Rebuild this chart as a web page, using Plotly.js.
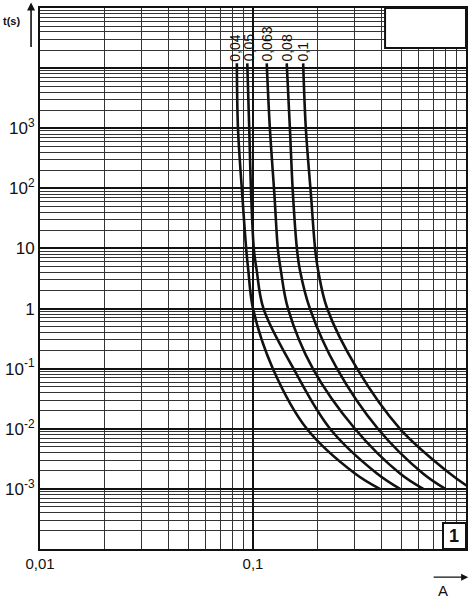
<!DOCTYPE html>
<html>
<head>
<meta charset="utf-8">
<script src="https://cdn.plot.ly/plotly-3.0.1.min.js"></script>
<style>
	body { margin: 0; background: #fff; }
	#fuseChart { width: 470px; height: 598px; }
</style>
</head>
<body>
<div id="fuseChart"></div>
<script>
// melting time (s) at which the current of each curve was read
const timeS = [12000, 1000, 80, 9.4, 4.4, 1, 0.1, 0.01, 0.0018, 0.001];

// current (A) of each rated fuse at the times above
const curve004 = [0.084, 0.085, 0.089, 0.093, 0.095, 0.100, 0.124, 0.179, 0.301, 0.394];
const curve005 = [0.094, 0.096, 0.098, 0.101, 0.104, 0.112, 0.155, 0.230, 0.382, 0.49];
const curve0063 = [0.116, 0.120, 0.126, 0.131, 0.135, 0.146, 0.191, 0.301, 0.490, 0.63];
const curve008 = [0.144, 0.149, 0.154, 0.161, 0.166, 0.185, 0.248, 0.386, 0.628, 0.80];
const curve01 = [0.172, 0.177, 0.187, 0.196, 0.202, 0.223, 0.308, 0.490, 0.84, 1.06];

const curveLabels = ["0,04", "0,05", "0,063", "0,08", "0,1"];

const xTickVals = [0.01, 0.1, 1];
const xTickText = ["0,01", "0,1", "1"];
const yTickVals = [1e4, 1e3, 1e2, 10, 1, 0.1, 0.01, 0.001];
const yTickText = [" ", "10<sup>3</sup>", "10<sup>2</sup>", "10", "1", "10<sup>-1</sup>", "10<sup>-2</sup>", "10<sup>-3</sup>"];

const narrow = "Liberation Sans Narrow, Arial Narrow, Arial";

function buildTraces() {
	let curves = [curve004, curve005, curve0063, curve008, curve01];
	let traces = [];
	for (let c of curves) {
		traces.push({
			type: "scatter",
			mode: "lines",
			x: c,
			y: timeS,
			line: {color: "#111", width: 2.6, shape: "spline", smoothing: 1},
			hoverinfo: "skip",
			showlegend: false
		});
	}
	return traces;
}

function buildAnnotations() {
	let curves = [curve004, curve005, curve0063, curve008, curve01];
	// the two left labels are pushed apart a little so they don't touch
	let nudge = [-2, 2, 0, 0, 0];
	let annots = [];
	for (let i = 0; i < curves.length; i++) {
		annots.push({
			xref: "x", yref: "y",
			x: Math.log10(curves[i][0]),
			y: Math.log10(timeS[0]),
			xshift: nudge[i],
			text: curveLabels[i],
			textangle: -90,
			xanchor: "center", yanchor: "bottom",
			showarrow: false,
			font: {family: narrow, size: 14, color: "#111"}
		});
	}
	// axis names with their arrows
	annots.push({xref: "paper", yref: "paper", x: -0.092, y: 0.99, xanchor: "left", yanchor: "top",
		text: "<b>t(s)</b>", showarrow: false, font: {family: narrow, size: 11, color: "#111"}});
	annots.push({xref: "paper", yref: "paper", x: -0.021, y: 1.01, text: "",
		showarrow: true, ax: 0, ay: 46, arrowhead: 2, arrowsize: 1, arrowwidth: 1.6, arrowcolor: "#111"});
	annots.push({xref: "paper", yref: "paper", x: 1.005, y: -0.052, text: "",
		showarrow: true, ax: -36, ay: 0, arrowhead: 2, arrowsize: 1, arrowwidth: 1.4, arrowcolor: "#111"});
	annots.push({xref: "paper", yref: "paper", x: 0.946, y: -0.076, xanchor: "center", yanchor: "middle",
		text: "A", showarrow: false, font: {family: narrow, size: 15, color: "#111"}});
	annots.push({xref: "paper", yref: "paper", x: 0.973, y: 0.024, xanchor: "center", yanchor: "middle",
		text: "<b>1</b>", showarrow: false, font: {family: "Liberation Sans, Arial", size: 18, color: "#111"}});
	return annots;
}

function drawFuseChart() {
	let axisBase = {
		type: "log",
		tickmode: "array",
		ticks: "",
		showgrid: true,
		gridcolor: "#111",
		gridwidth: 2,
		minor: {dtick: "D1", showgrid: true, gridcolor: "#333", gridwidth: 1, ticks: ""},
		showline: true,
		mirror: true,
		linecolor: "#111",
		linewidth: 2,
		zeroline: false
	};
	let layout = {
		width: 470,
		height: 598,
		margin: {l: 40, r: 4, t: 8, b: 49},
		paper_bgcolor: "#fff",
		plot_bgcolor: "#fff",
		xaxis: Object.assign({}, axisBase, {
			range: [-2, 0],
			tickvals: xTickVals,
			ticktext: xTickText,
			tickfont: {family: narrow, size: 15, color: "#111"}
		}),
		yaxis: Object.assign({}, axisBase, {
			range: [-4, 5],
			tickvals: yTickVals,
			ticktext: yTickText,
			tickfont: {family: narrow, size: 17, color: "#111"}
		}),
		shapes: [
			{type: "rect", xref: "paper", yref: "paper", x0: 0.81, x1: 1.0, y0: 0.926, y1: 1.0,
				fillcolor: "#fff", line: {color: "#111", width: 2}, layer: "above"},
			{type: "rect", xref: "paper", yref: "paper", x0: 0.946, x1: 1.0, y0: 0.0, y1: 0.048,
				fillcolor: "#fff", line: {color: "#111", width: 2}, layer: "above"}
		],
		annotations: buildAnnotations()
	};
	Plotly.newPlot("fuseChart", buildTraces(), layout, {staticPlot: true});
}

drawFuseChart();
</script>
</body>
</html>
